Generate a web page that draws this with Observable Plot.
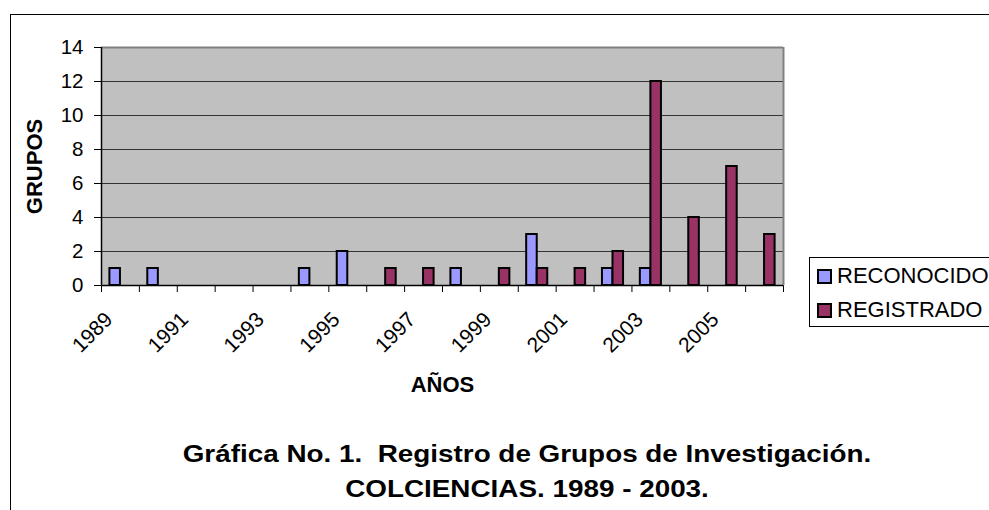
<!DOCTYPE html>
<html>
<head>
<meta charset="utf-8">
<script src="https://cdn.jsdelivr.net/npm/d3@7"></script>
<script src="https://cdn.jsdelivr.net/npm/@observablehq/plot@0.6"></script>
<style>
  html, body { margin: 0; padding: 0; background: #fff; overflow: hidden; }
  #wrap { position: relative; width: 989px; height: 510px; overflow: hidden; font-family: 'Liberation Sans', Arial, sans-serif; }
  #wrap svg { position: absolute; left: 0; top: 0; }
  .border { position: absolute; left: 10px; top: 14px; width: 990px; height: 500px; border-top: 1.5px solid #000; border-left: 1.5px solid #000; }
  .legend { position: absolute; left: 809px; top: 257px; width: 220px; height: 68px; border: 1px solid #000; background: #fff; }
  .item { position: absolute; left: 7px; height: 26px; display: flex; align-items: center; font-size: 22px; white-space: nowrap; color: #000; }
  .sw { width: 11px; height: 11px; border: 2px solid #000; margin-right: 5px; }
  .cap { position: absolute; left: 0; width: 1054px; text-align: center; font-weight: bold; font-size: 23.5px; line-height: 23.5px; white-space: pre; transform: scaleX(1.185); transform-origin: 527px 50%; color: #000; }
</style>
</head>
<body>
<div id="wrap"></div>
<script>
const years = [1989,1990,1991,1992,1993,1994,1995,1996,1997,1998,1999,2000,2001,2002,2003,2004,2005,2006];
const labelYears = [1989,1991,1993,1995,1997,1999,2001,2003,2005];
const yTicks = [0,2,4,6,8,10,12,14];
const series = ["RECONOCIDO","REGISTRADO"];
const colors = ["#9999ff","#993366"];
const reconocido = [1,1,0,0,0,1,2,0,0,1,0,3,0,1,1,0,0,0];
const registrado = [0,0,0,0,0,0,0,1,1,0,1,1,1,2,12,4,7,3];
const yTitle = "GRUPOS";
const xTitle = "AÑOS";
const caption1 = "Gráfica No. 1.  Registro de Grupos de Investigación.";
const caption2 = "COLCIENCIAS. 1989 - 2003.";

const recon = years.map((year, i) => ({year, value: reconocido[i], serie: series[0]}));
const regis = years.map((year, i) => ({year, value: registrado[i], serie: series[1]}));

const chart = Plot.plot({
  width: 989,
  height: 510,
  marginLeft: 101,
  marginRight: 206,
  marginTop: 47,
  marginBottom: 225,
  style: {fontFamily: "'Liberation Sans', Arial, sans-serif", fontSize: "20.5px", color: "#000", background: "transparent", overflow: "visible"},
  x: {domain: [1989, 2007], ticks: d3.range(1989, 2008), tickFormat: () => "", tickSize: 7, label: null},
  y: {domain: [0, 14], ticks: yTicks, tickSize: 7, tickPadding: 11, label: null},
  color: {domain: series, range: colors},
  marks: [
    Plot.frame({fill: "#c0c0c0", stroke: "none"}),
    Plot.ruleY(yTicks.filter(v => v > 0 && v < 14), {stroke: "#333", strokeWidth: 1}),
    Plot.ruleY([14], {stroke: "#808080", strokeWidth: 2}),
    Plot.ruleX([2007], {stroke: "#808080", strokeWidth: 2}),
    Plot.rectY(recon, {filter: d => d.value > 0, x: "year", y: "value", interval: 1, insetLeft: 8.4, insetRight: 18.94, fill: "serie", stroke: "#000", strokeWidth: 2}),
    Plot.rectY(regis, {filter: d => d.value > 0, x: "year", y: "value", interval: 1, insetLeft: 18.94, insetRight: 8.4, fill: "serie", stroke: "#000", strokeWidth: 2}),
    Plot.ruleY([0], {stroke: "#000", strokeWidth: 1.5}),
    Plot.ruleX([1989], {stroke: "#000", strokeWidth: 1.5}),
    Plot.text(labelYears, {x: d => d, frameAnchor: "bottom", text: d => String(d), rotate: -45, textAnchor: "end", lineAnchor: "middle", dx: 7.5, dy: 30.5, fontSize: 21}),
    Plot.text([yTitle], {text: d => d, frameAnchor: "left", textAnchor: "middle", lineAnchor: "middle", dx: -67, rotate: -90, fontWeight: "bold", fontSize: 22}),
    Plot.text([xTitle], {text: d => d, frameAnchor: "bottom", textAnchor: "middle", lineAnchor: "middle", dy: 99, fontWeight: "bold", fontSize: 22})
  ]
});

const wrap = document.getElementById("wrap");
const border = document.createElement("div");
border.className = "border";
wrap.appendChild(border);
wrap.appendChild(chart);

const legend = document.createElement("div");
legend.className = "legend";
series.forEach((s, i) => {
  const it = document.createElement("div");
  it.className = "item";
  it.style.top = (i === 0 ? 5 : 39) + "px";
  const sw = document.createElement("span");
  sw.className = "sw";
  sw.style.background = colors[i];
  const tx = document.createElement("span");
  tx.textContent = s;
  it.appendChild(sw);
  it.appendChild(tx);
  legend.appendChild(it);
});
wrap.appendChild(legend);

[[caption1, 443], [caption2, 478]].forEach(([t, top]) => {
  const c = document.createElement("div");
  c.className = "cap";
  c.style.top = top + "px";
  c.textContent = t;
  wrap.appendChild(c);
});
</script>
</body>
</html>
